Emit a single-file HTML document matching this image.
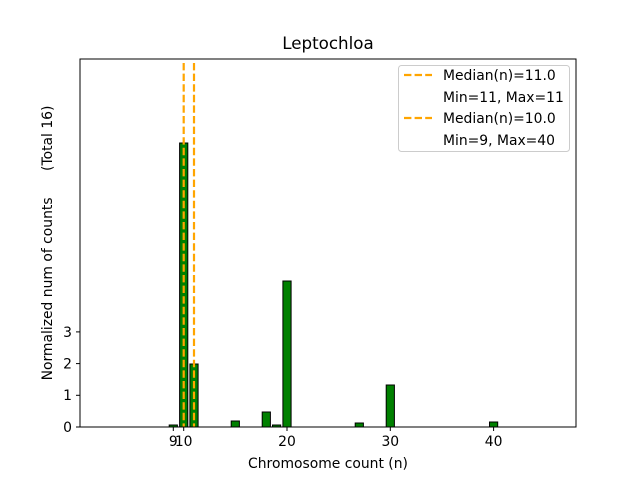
<!DOCTYPE html>
<html><head><style>body{margin:0;background:#fff}</style></head><body>
<svg width="640" height="480" xmlns="http://www.w3.org/2000/svg" font-family="DejaVu Sans, Liberation Sans, sans-serif" font-size="13.9">
<rect width="640" height="480" fill="#fff"/>
<g fill="#008000" stroke="#000" stroke-width="1">
<rect x="169.2" y="425" width="8.2" height="2"/>
<rect x="179.6" y="143" width="8.2" height="284"/>
<rect x="189.9" y="364" width="8.2" height="63"/>
<rect x="231.2" y="421" width="8.2" height="6"/>
<rect x="262.2" y="412" width="8.2" height="15"/>
<rect x="272.5" y="425" width="8.2" height="2"/>
<rect x="282.9" y="281" width="8.2" height="146"/>
<rect x="355.2" y="423" width="8.2" height="4"/>
<rect x="386.2" y="385" width="8.2" height="42"/>
<rect x="489.5" y="422" width="8.2" height="5"/>
</g>
<g stroke="#FFA500" stroke-width="2.2" stroke-dasharray="7.4,3.2">
<line x1="194" y1="63" x2="194" y2="427"/>
<line x1="183.7" y1="63" x2="183.7" y2="427"/>
</g>
<rect x="80" y="59" width="496" height="368" fill="none" stroke="#000" stroke-width="1"/>
<g stroke="#000">
<line x1="173.3" y1="427" x2="173.3" y2="431"/>
<line x1="183.7" y1="427" x2="183.7" y2="431"/>
<line x1="287" y1="427" x2="287" y2="431"/>
<line x1="390.3" y1="427" x2="390.3" y2="431"/>
<line x1="493.6" y1="427" x2="493.6" y2="431"/>
<line x1="76" y1="427" x2="80" y2="427"/>
<line x1="76" y1="395.3" x2="80" y2="395.3"/>
<line x1="76" y1="363.6" x2="80" y2="363.6"/>
<line x1="76" y1="331.9" x2="80" y2="331.9"/>
</g>
<g text-anchor="middle">
<text x="173.3" y="446">9</text><text x="183.7" y="446">10</text>
<text x="287" y="446">20</text><text x="390.3" y="446">30</text><text x="493.6" y="446">40</text>
<text x="328" y="468">Chromosome count (n)</text>
<text x="328" y="49" font-size="16.7">Leptochloa</text>
</g>
<g text-anchor="end">
<text x="72" y="432">0</text><text x="72" y="400">1</text><text x="72" y="368.5">2</text><text x="72" y="337">3</text>
</g>
<text transform="translate(52,243) rotate(-90)" text-anchor="middle" xml:space="preserve">Normalized num of counts      (Total 16)</text>
<rect x="398.5" y="65.5" width="171" height="86" rx="3" fill="#fff" stroke="#ccc"/>
<g stroke="#FFA500" stroke-width="2.2" stroke-dasharray="7.4,3.2">
<line x1="404" y1="75" x2="432" y2="75"/><line x1="404" y1="118" x2="432" y2="118"/>
</g>
<text x="443" y="80">Median(n)=11.0</text>
<text x="443" y="102">Min=11, Max=11</text>
<text x="443" y="123">Median(n)=10.0</text>
<text x="443" y="145">Min=9, Max=40</text>
</svg>
</body></html>
